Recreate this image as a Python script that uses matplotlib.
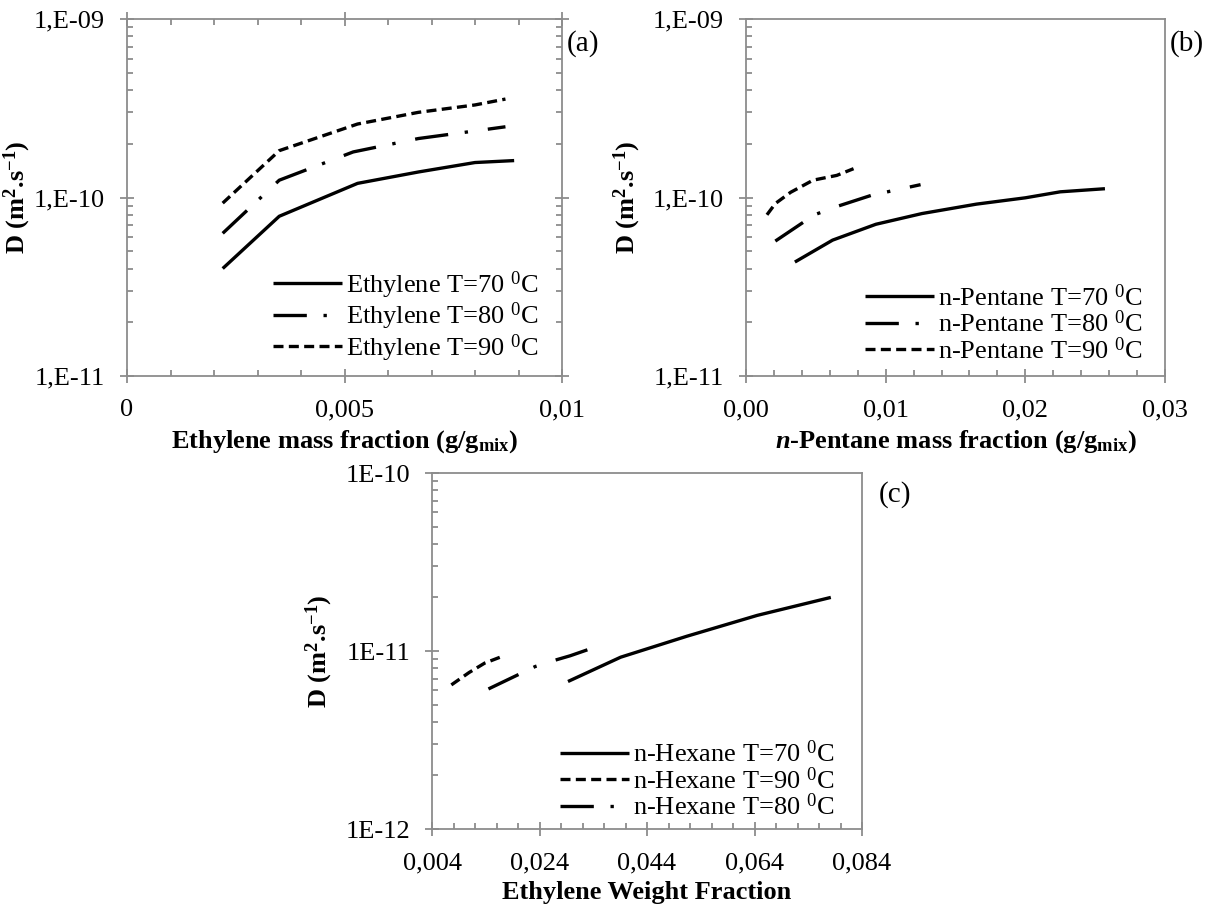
#!/usr/bin/env python3
"""
Coeficientes de difusão (D) em função da fração mássica:
(a) etileno, (b) n-pentano, (c) n-hexano.
"""

import matplotlib
matplotlib.use("Agg")
import matplotlib.pyplot as plt
from matplotlib.ticker import FixedLocator, FixedFormatter, LogLocator, NullFormatter

plt.rcParams["font.family"] = ["Liberation Serif", "DejaVu Serif"]
plt.rcParams["mathtext.fontset"] = "custom"
plt.rcParams["mathtext.rm"] = "Liberation Serif"
plt.rcParams["mathtext.bf"] = "Liberation Serif:bold"
plt.rcParams["mathtext.it"] = "Liberation Serif:italic:bold"

# ---- (a) Ethylene ----
A_X70 = [0.0022, 0.0035, 0.0053, 0.0067, 0.0080, 0.0089]
A_D70 = [4.0e-11, 7.85e-11, 1.20e-10, 1.39e-10, 1.57e-10, 1.61e-10]
A_X80 = [0.0022, 0.0035, 0.0052, 0.0067, 0.0080, 0.0087]
A_D80 = [6.3e-11, 1.25e-10, 1.80e-10, 2.14e-10, 2.36e-10, 2.49e-10]
A_X90 = [0.0022, 0.0035, 0.0053, 0.0067, 0.0080, 0.0087]
A_D90 = [9.3e-11, 1.83e-10, 2.58e-10, 3.00e-10, 3.30e-10, 3.56e-10]
A_XTICKS = [0, 0.005, 0.01]
A_XLABELS = ["0", "0,005", "0,01"]

# ---- (b) n-Pentane ----
B_X70 = [0.0035, 0.0062, 0.0093, 0.0126, 0.0165, 0.0200, 0.0225, 0.0257]
B_D70 = [4.35e-11, 5.77e-11, 7.08e-11, 8.13e-11, 9.18e-11, 9.96e-11, 1.076e-10, 1.12e-10]
B_X80 = [0.0021, 0.0049, 0.0065, 0.0090, 0.0125]
B_D80 = [5.7e-11, 8.0e-11, 8.9e-11, 1.03e-10, 1.18e-10]
B_X90 = [0.0015, 0.0021, 0.0032, 0.0048, 0.0065, 0.0077]
B_D90 = [8.0e-11, 9.25e-11, 1.07e-10, 1.25e-10, 1.33e-10, 1.45e-10]
B_XTICKS = [0.0, 0.01, 0.02, 0.03]
B_XLABELS = ["0,00", "0,01", "0,02", "0,03"]

# ---- (c) n-Hexane ----
C_X70 = [0.0293, 0.0391, 0.0514, 0.0645, 0.0782]
C_D70 = [6.74e-12, 9.23e-12, 1.21e-11, 1.585e-11, 2.0e-11]
C_X90 = [0.0076, 0.0109, 0.0138, 0.0170]
C_D90 = [6.45e-12, 7.57e-12, 8.55e-12, 9.31e-12]
C_X80 = [0.0145, 0.0232, 0.0265, 0.0297, 0.0343]
C_D80 = [6.12e-12, 8.18e-12, 8.81e-12, 9.4e-12, 1.05e-11]
C_XTICKS = [0.004, 0.024, 0.044, 0.064, 0.084]
C_XLABELS = ["0,004", "0,024", "0,044", "0,064", "0,084"]

AB_YTICKS = [1e-11, 1e-10, 1e-9]
AB_YLABELS = ["1,E-11", "1,E-10", "1,E-09"]
C_YTICKS = [1e-12, 1e-11, 1e-10]
C_YLABELS = ["1E-12", "1E-11", "1E-10"]

FS = 19
GRAY = "#8c8c8c"
LW = 2.4
STYLES = {
    70: "-",
    80: (0, (10, 5, 1, 6)),
    90: (0, (3, 1.6)),
}
YLABEL = r"D (m$^\mathbf{2}$.s$^\mathbf{-1}$)"


def style_axes(ax, xticks, xlabels, xminor, yticks, ylabels, mirror=False):
    ax.set_yscale("log")
    ax.set_ylim(yticks[0], yticks[-1])
    ax.set_xlim(xticks[0], xticks[-1])
    ax.xaxis.set_major_locator(FixedLocator(xticks))
    ax.xaxis.set_major_formatter(FixedFormatter(xlabels))
    ax.xaxis.set_minor_locator(FixedLocator(xminor))
    ax.yaxis.set_major_locator(FixedLocator(yticks))
    ax.yaxis.set_major_formatter(FixedFormatter(ylabels))
    ax.yaxis.set_minor_locator(LogLocator(base=10, subs=range(2, 10)))
    ax.yaxis.set_minor_formatter(NullFormatter())
    for sp in ax.spines.values():
        sp.set_color(GRAY)
        sp.set_linewidth(1.3)
    ax.tick_params(which="major", direction="inout", length=9.5, width=1.3,
                   color=GRAY, labelsize=FS, top=mirror, right=mirror)
    ax.tick_params(axis="y", which="major", pad=11)
    ax.tick_params(axis="x", which="major", pad=12)
    ax.tick_params(which="minor", direction="in", length=4.5, width=1.3,
                   color=GRAY, top=mirror, right=mirror)
    ax.set_ylabel(YLABEL, fontsize=FS, fontweight="bold")


def draw_panel(ax, series, legend_anchor):
    for x, d, temp, label in series:
        ax.plot(x, d, color="black", lw=LW, linestyle=STYLES[temp], label=label,
                solid_capstyle="butt", dash_capstyle="butt")
    ax.legend(loc="lower right", bbox_to_anchor=legend_anchor, frameon=False,
              fontsize=FS, handlelength=2.6, handletextpad=0.15,
              labelspacing=0.0, borderpad=0, borderaxespad=0)


def main():
    fig = plt.figure(figsize=(12.15, 9.11), dpi=100)
    ax_a = fig.add_axes([127 / 1215, 1 - 376 / 911, 435 / 1215, 357 / 911])
    ax_b = fig.add_axes([746 / 1215, 1 - 376 / 911, 419 / 1215, 357 / 911])
    ax_c = fig.add_axes([432 / 1215, 1 - 829 / 911, 430 / 1215, 356 / 911])

    # (a)
    style_axes(ax_a, A_XTICKS, A_XLABELS, [i * 0.001 for i in range(11)],
               AB_YTICKS, AB_YLABELS, mirror=True)
    draw_panel(ax_a, [
        (A_X70, A_D70, 70, r"Ethylene T=70 $^{0}$C"),
        (A_X80, A_D80, 80, r"Ethylene T=80 $^{0}$C"),
        (A_X90, A_D90, 90, r"Ethylene T=90 $^{0}$C"),
    ], (0.945, 0.035))
    ax_a.set_xlabel(r"Ethylene mass fraction (g/g$_\mathbf{mix}$)",
                    fontsize=FS, fontweight="bold")
    ax_a.text(1.012, 0.93, "(a)", transform=ax_a.transAxes, fontsize=21,
              va="center", ha="left")

    # (b)
    style_axes(ax_b, B_XTICKS, B_XLABELS, [i * 0.002 for i in range(16)],
               AB_YTICKS, AB_YLABELS)
    draw_panel(ax_b, [
        (B_X70, B_D70, 70, r"n-Pentane T=70 $^{0}$C"),
        (B_X80, B_D80, 80, r"n-Pentane T=80 $^{0}$C"),
        (B_X90, B_D90, 90, r"n-Pentane T=90 $^{0}$C"),
    ], (0.945, 0.035))
    ax_b.set_xlabel(r"$\mathit{n}$-Pentane mass fraction (g/g$_\mathbf{mix}$)",
                    fontsize=FS, fontweight="bold")
    ax_b.text(1.012, 0.93, "(b)", transform=ax_b.transAxes, fontsize=21,
              va="center", ha="left")

    # (c)
    style_axes(ax_c, C_XTICKS, C_XLABELS, [0.004 + i * 0.004 for i in range(21)],
               C_YTICKS, C_YLABELS)
    draw_panel(ax_c, [
        (C_X70, C_D70, 70, r"n-Hexane T=70 $^{0}$C"),
        (C_X90, C_D90, 90, r"n-Hexane T=90 $^{0}$C"),
        (C_X80, C_D80, 80, r"n-Hexane T=80 $^{0}$C"),
    ], (0.935, 0.025))
    ax_c.set_xlabel("Ethylene Weight Fraction", fontsize=FS, fontweight="bold")
    ax_c.text(1.04, 0.94, "(c)", transform=ax_c.transAxes, fontsize=21,
              va="center", ha="left")

    # posição dos rótulos dos eixos
    for ax, ylab_x in ((ax_a, -0.216), (ax_b, -0.245), (ax_c, -0.225)):
        ax.yaxis.set_label_coords(ylab_x, 0.5)
        ax.xaxis.set_label_coords(0.5, -0.145)

    fig.savefig("out.png", dpi=100)


if __name__ == "__main__":
    main()
